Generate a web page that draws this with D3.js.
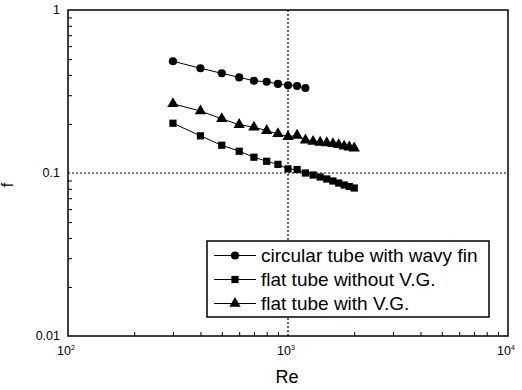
<!DOCTYPE html>
<html>
<head>
<meta charset="utf-8">
<script src="https://cdn.jsdelivr.net/npm/d3@7"></script>
<style>
  body { margin: 0; background: #fff; }
  svg { font-family: "Liberation Sans", Arial, sans-serif; }
</style>
</head>
<body>
<div id="chart"></div>
<script>
// Reynolds numbers of the measured points
var reCircular = [300, 400, 500, 600, 700, 800, 900, 1000, 1100, 1200];
var reFlat = [300, 400, 500, 600, 700, 800, 900, 1000, 1100, 1200,
              1300, 1400, 1500, 1600, 1700, 1800, 1900, 2000];

// friction factor f
var fCircularWavy = [0.485, 0.439, 0.409, 0.386, 0.368, 0.363, 0.352, 0.345, 0.342, 0.332];
var fFlatNoVG = [0.202, 0.169, 0.148, 0.136, 0.125, 0.118, 0.113, 0.106, 0.105, 0.100,
                 0.0972, 0.0945, 0.0919, 0.0893, 0.0868, 0.0844, 0.0826, 0.0809];
var fFlatVG = [0.266, 0.240, 0.215, 0.198, 0.191, 0.182, 0.174, 0.167, 0.170, 0.159,
               0.156, 0.154, 0.153, 0.151, 0.149, 0.146, 0.144, 0.142];

// legend text and tick labels
var seriesNames = ["circular tube with wavy fin", "flat tube without V.G.", "flat tube with V.G."];
var xTickExps = [2, 3, 4];
var yTickLabels = ["0.01", "0.1", "1"];

var margin = { top: 10, right: 14, bottom: 54, left: 68 },
    width = 522 - margin.left - margin.right,
    height = 390 - margin.top - margin.bottom;

var x = d3.scaleLog().domain([100, 10000]).range([0, width]);
var y = d3.scaleLog().domain([0.01, 1]).range([height, 0]);

var svg = d3.select("#chart").append("svg")
    .attr("width", 522)
    .attr("height", 390)
    .append("g")
    .attr("transform", "translate(" + margin.left + "," + margin.top + ")");

// dotted grid lines at 10^3 and 0.1
svg.append("line")
    .attr("x1", x(1000)).attr("x2", x(1000))
    .attr("y1", 0).attr("y2", height)
    .attr("stroke", "#000").attr("stroke-width", 1.2)
    .attr("stroke-dasharray", "2,2");
svg.append("line")
    .attr("x1", 0).attr("x2", width)
    .attr("y1", y(0.1)).attr("y2", y(0.1))
    .attr("stroke", "#000").attr("stroke-width", 1.2)
    .attr("stroke-dasharray", "2,2");

// minor ticks (inside) on bottom and left
var xMinor = [], yMinor = [];
[100, 1000].forEach(function (d) {
    for (var k = 2; k <= 9; k++) xMinor.push(d * k);
});
[0.01, 0.1].forEach(function (d) {
    for (var k = 2; k <= 9; k++) yMinor.push(d * k);
});

svg.append("g")
    .attr("transform", "translate(0," + height + ")")
    .call(d3.axisBottom(x).tickValues(xMinor).tickSize(-4).tickFormat(""))
    .call(function (g) { g.select(".domain").remove(); });

svg.append("g")
    .call(d3.axisLeft(y).tickValues(yMinor).tickSize(-4).tickFormat(""))
    .call(function (g) { g.select(".domain").remove(); });

// frame
svg.append("rect")
    .attr("width", width).attr("height", height)
    .attr("fill", "none").attr("stroke", "#000").attr("stroke-width", 1.5);

// tick labels
svg.selectAll(".ylab")
    .data(yTickLabels)
    .enter().append("text")
    .attr("x", -8)
    .attr("y", function (d) { return y(+d) + 4; })
    .attr("text-anchor", "end")
    .attr("font-size", 12.5)
    .text(function (d) { return d; });

var xl = svg.selectAll(".xlab")
    .data(xTickExps)
    .enter().append("text")
    .attr("x", function (d) { return x(Math.pow(10, d)) - 2; })
    .attr("y", height + 19)
    .attr("text-anchor", "middle")
    .attr("font-size", 12.5);
xl.append("tspan").text("10");
xl.append("tspan").attr("dy", -5).attr("font-size", 7).text(function (d) { return d; });

// axis titles
svg.append("text")
    .attr("x", width / 2 - 1)
    .attr("y", height + 47)
    .attr("text-anchor", "middle")
    .attr("font-size", 18)
    .text("Re");

svg.append("text")
    .attr("transform", "translate(" + (-55) + "," + (height / 2 + 12) + ") rotate(-90)")
    .attr("text-anchor", "middle")
    .attr("font-size", 16)
    .text("f");

// series
var series = [
    { re: reCircular, f: fCircularWavy, symbol: d3.symbolCircle, size: 52 },
    { re: reFlat, f: fFlatNoVG, symbol: d3.symbolSquare, size: 52 },
    { re: reFlat, f: fFlatVG, symbol: d3.symbolTriangle, size: 56 }
];

var line = d3.line()
    .x(function (d) { return x(d[0]); })
    .y(function (d) { return y(d[1]); });

series.forEach(function (s) {
    var pts = s.re.map(function (r, i) { return [r, s.f[i]]; });
    svg.append("path")
        .datum(pts)
        .attr("d", line)
        .attr("fill", "none")
        .attr("stroke", "#000")
        .attr("stroke-width", 1);
    svg.selectAll(null)
        .data(pts)
        .enter().append("path")
        .attr("transform", function (d) { return "translate(" + x(d[0]) + "," + y(d[1]) + ")"; })
        .attr("d", d3.symbol().type(s.symbol).size(s.size))
        .attr("fill", "#000");
});

// legend
var legend = svg.append("g").attr("transform", "translate(139,231)");
legend.append("rect")
    .attr("width", 282).attr("height", 76)
    .attr("fill", "#fff").attr("stroke", "#000").attr("stroke-width", 1.5);

seriesNames.forEach(function (name, i) {
    var ly = 14.5 + i * 24;
    legend.append("line")
        .attr("x1", 7).attr("x2", 49)
        .attr("y1", ly).attr("y2", ly)
        .attr("stroke", "#000").attr("stroke-width", 1);
    legend.append("path")
        .attr("transform", "translate(28," + ly + ")")
        .attr("d", d3.symbol().type(series[i].symbol).size(series[i].size))
        .attr("fill", "#000");
    legend.append("text")
        .attr("x", 54)
        .attr("y", ly + 6)
        .attr("font-size", 19)
        .text(name);
});
</script>
</body>
</html>
